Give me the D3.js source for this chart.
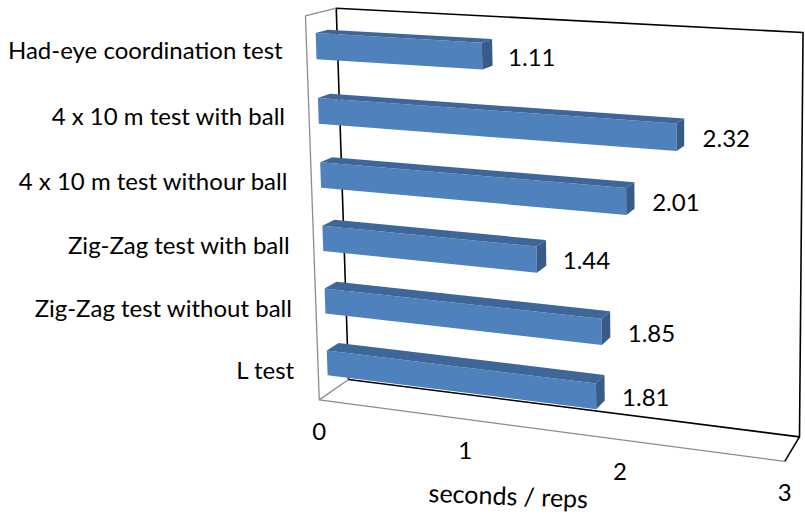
<!DOCTYPE html>
<html>
<head>
<meta charset="utf-8">
<script src="https://cdn.jsdelivr.net/npm/d3@7"></script>
<style>
  body { margin: 0; background: #fff; }
  svg { display: block; }
  text { font-family: Lato, "Open Sans", sans-serif; fill: #000; }
</style>
</head>
<body>
<script>
// ---- data ----
const categories = [
  "L test",
  "Zig-Zag test without ball",
  "Zig-Zag test with ball",
  "4 x 10 m test withour ball",
  "4 x 10 m test with ball",
  "Had-eye coordination test"
];
const values = [1.81, 1.85, 1.44, 2.01, 2.32, 1.11];
const tickValues = [0, 1, 2, 3];
const axisTitle = "seconds / reps";

// ---- layout ----
const W = 805, H = 515;
const svg = d3.select("body").append("svg").attr("width", W).attr("height", H);

// World box: x = value (0..1), y = category (0 bottom .. 1 top), z = depth (0 front .. 1 back).
// Screen positions of the box corners define the perspective camera.
const anchors = [
  [[0, 0, 0], [319.5, 400]],
  [[1, 0, 0], [785, 461]],
  [[0, 1, 0], [305, 16]],
  [[0, 0, 1], [348.3, 379.3]],
  [[1, 0, 1], [799.3, 437.3]],
  [[0, 1, 1], [336.7, 8]],
  [[1, 1, 1], [803, 32.5]]
];

// Fit a 3x4 projection matrix (DLT, least squares).
function fitProjection(pts) {
  const A = [], b = [];
  pts.forEach(([[X, Y, Z], [u, v]]) => {
    A.push([X, Y, Z, 1, 0, 0, 0, 0, -u * X, -u * Y, -u * Z]); b.push(u);
    A.push([0, 0, 0, 0, X, Y, Z, 1, -v * X, -v * Y, -v * Z]); b.push(v);
  });
  const n = 11;
  const N = Array.from({ length: n }, () => new Array(n + 1).fill(0));
  for (let r = 0; r < A.length; r++) {
    for (let i = 0; i < n; i++) {
      for (let j = 0; j < n; j++) N[i][j] += A[r][i] * A[r][j];
      N[i][n] += A[r][i] * b[r];
    }
  }
  for (let c = 0; c < n; c++) {
    let p = c;
    for (let r = c + 1; r < n; r++) if (Math.abs(N[r][c]) > Math.abs(N[p][c])) p = r;
    [N[c], N[p]] = [N[p], N[c]];
    for (let r = 0; r < n; r++) {
      if (r === c) continue;
      const f = N[r][c] / N[c][c];
      for (let k = c; k <= n; k++) N[r][k] -= f * N[c][k];
    }
  }
  return N.map((row, i) => row[n] / row[i]);
}
const M = fitProjection(anchors);
function project([X, Y, Z]) {
  const w = M[8] * X + M[9] * Y + M[10] * Z + 1;
  return [
    (M[0] * X + M[1] * Y + M[2] * Z + M[3]) / w,
    (M[4] * X + M[5] * Y + M[6] * Z + M[7]) / w
  ];
}

// ---- scales ----
const x = d3.scaleLinear().domain([0, 3]).range([0, 1]);
const y = d3.scaleBand().domain(categories).range([0, 1]).paddingInner(0.6).paddingOuter(0.3);
const z = d3.scaleLinear().domain([0, 1]).range([0.3, 0.7]); // bar depth slot

const line = d3.line();
const poly = pts => line(pts.map(project)) + "Z";

// ---- frame: back wall, floor, side wall ----
const frame = svg.append("g").attr("fill", "none").attr("stroke-linejoin", "round");
frame.append("path")
  .attr("d", poly([[0, 0, 1], [1, 0, 1], [1, 1, 1], [0, 1, 1]]))
  .attr("stroke", "#000").attr("stroke-width", 1.6);
frame.append("path")
  .attr("d", line([[1, 0, 0], [1, 0, 1]].map(project)))
  .attr("stroke", "#000").attr("stroke-width", 1.6);
frame.append("path")
  .attr("d", line([[0, 1, 1], [0, 1, 0], [0, 0, 0], [1, 0, 0]].map(project)))
  .attr("stroke", "#8c8c8c").attr("stroke-width", 1.3);
frame.append("path")
  .attr("d", line([[0, 0, 0], [0, 0, 1]].map(project)))
  .attr("stroke", "#8c8c8c").attr("stroke-width", 1.3);

// ---- bars ----
const data = categories.map((c, i) => ({ cat: c, value: values[i] }));
const bars = svg.append("g").selectAll("g").data(data).join("g");
bars.each(function (d) {
  const g = d3.select(this);
  const x1 = x(d.value);
  const y0 = y(d.cat), y1 = y0 + y.bandwidth();
  const z0 = z(0), z1 = z(1);
  g.append("path").attr("fill", "#4f81bd")
    .attr("d", poly([[0, y0, z0], [x1, y0, z0], [x1, y1, z0], [0, y1, z0]]));
  g.append("path").attr("fill", "#3f6698")
    .attr("d", poly([[0, y1, z0], [x1, y1, z0], [x1, y1, z1], [0, y1, z1]]));
  g.append("path").attr("fill", "#385b87")
    .attr("d", poly([[x1, y0, z0], [x1, y0, z1], [x1, y1, z1], [x1, y1, z0]]));
});

// ---- value labels ----
const fs = 24;
svg.append("g").selectAll("text").data(data).join("text")
  .attr("x", d => project([x(d.value), y(d.cat) + y.bandwidth() / 2, z(0)])[0] + 26)
  .attr("y", d => project([x(d.value), y(d.cat) + y.bandwidth() / 2, z(0)])[1] + 1)
  .attr("dy", "0.36em")
  .attr("font-size", fs)
  .text(d => d.value.toFixed(2));

// ---- category labels ----
svg.append("g").selectAll("text").data(data).join("text")
  .attr("x", d => project([0, y(d.cat) + y.bandwidth() / 2, 0])[0] - 24)
  .attr("y", d => project([0, y(d.cat) + y.bandwidth() / 2, 0])[1] + 2)
  .attr("dy", "0.36em")
  .attr("text-anchor", "end")
  .attr("font-size", fs)
  .text(d => d.cat);

// ---- value axis ticks ----
svg.append("g").selectAll("text").data(tickValues).join("text")
  .attr("x", t => project([x(t), 0, 0])[0])
  .attr("y", t => project([x(t), 0, 0])[1] + 40)
  .attr("text-anchor", "middle")
  .attr("font-size", fs)
  .text(t => t);

// ---- axis title ----
svg.append("text")
  .attr("transform", "translate(508,505) rotate(2.2)")
  .attr("text-anchor", "middle")
  .attr("font-size", 25)
  .text(axisTitle);
</script>
</body>
</html>
